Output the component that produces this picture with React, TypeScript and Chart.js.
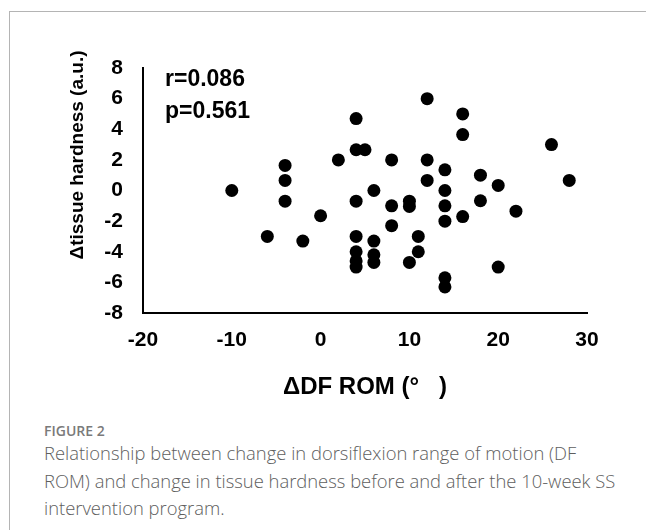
import React, { useEffect, useRef } from "react";
import { Chart, registerables } from "chart.js";

Chart.register(...registerables);

// ΔDF ROM (°) values
const dfRom: number[] = [
  -10, -6, -4, -4, -4, -2, 0, 2, 4, 4, 5, 4, 4, 4, 4, 4,
  6, 6, 6, 6,
  8, 8, 8, 10, 10, 10, 11, 11, 12, 12, 12,
  14, 14, 14, 14, 14, 14, 16, 16, 16, 18, 18, 20, 20, 22, 26, 28,
];
// Δtissue hardness (a.u.) values
const hardness: number[] = [
  0, -3, 1.64, 0.66, -0.7, -3.3, -1.65, 2, 4.7, 2.66, 2.66, -0.7, -3, -4, -4.6, -5,
  0, -3.3, -4.2, -4.7,
  2, -1, -2.3, -0.7, -1.04, -4.7, -3, -4, 6, 2, 0.66,
  1.35, 0, -1, -2, -5.7, -6.3, 5, 3.65, -1.7, 1, -0.67, 0.33, -5, -1.35, 3, 0.66,
];

const xTicks: number[] = [-20, -10, 0, 10, 20, 30];
const yTicks: number[] = [-8, -6, -4, -2, 0, 2, 4, 6, 8];

const xTitle = "ΔDF ROM (°   )";
const yTitle = "Δtissue hardness (a.u.)";
const statR = "r=0.086";
const statP = "p=0.561";
const figLabel = "FIGURE 2";
const caption =
  "Relationship between change in dorsiflexion range of motion (DF ROM) and change in tissue hardness before and after the 10-week SS intervention program.";

const AXIS_FONT = "'Liberation Sans', Arial, sans-serif";

export default function App() {
  const canvasRef = useRef<HTMLCanvasElement | null>(null);

  useEffect(() => {
    const canvas = canvasRef.current;
    if (!canvas) return;
    const points = dfRom.map((x, i) => ({ x, y: hardness[i] }));
    const chart = new Chart(canvas, {
      type: "scatter",
      data: {
        datasets: [
          {
            label: "subjects",
            data: points,
            backgroundColor: "#000",
            borderColor: "#000",
            borderWidth: 0,
            pointRadius: 6.5,
            pointHoverRadius: 6.5,
          },
        ],
      },
      options: {
        animation: false,
        responsive: false,
        maintainAspectRatio: false,
        events: [],
        layout: { padding: { left: 0, top: 68, right: 59, bottom: 0 } },
        plugins: {
          legend: { display: false },
          tooltip: { enabled: false },
          title: { display: false },
        },
        scales: {
          x: {
            type: "linear",
            min: xTicks[0],
            max: xTicks[xTicks.length - 1],
            afterFit: (s: any) => {
              s.height = 107;
            },
            afterBuildTicks: (s: any) => {
              s.ticks = xTicks.map((v) => ({ value: v }));
            },
            grid: { display: false, drawTicks: false },
            border: { display: true, color: "#000", width: 2 },
            ticks: {
              color: "#000",
              padding: 15,
              font: { family: AXIS_FONT, size: 21, weight: "bold" },
              maxRotation: 0,
            },
            title: {
              display: true,
              text: xTitle,
              color: "#000",
              font: { family: AXIS_FONT, size: 24, weight: "bold" },
              padding: { top: 0, bottom: 18 },
            },
          },
          y: {
            type: "linear",
            min: yTicks[0],
            max: yTicks[yTicks.length - 1],
            afterFit: (s: any) => {
              s.width = 143;
            },
            afterBuildTicks: (s: any) => {
              s.ticks = yTicks.map((v) => ({ value: v }));
            },
            grid: { display: false, drawTicks: false },
            border: { display: true, color: "#000", width: 2 },
            ticks: {
              color: "#000",
              padding: 20,
              font: { family: AXIS_FONT, size: 21, weight: "bold" },
            },
          },
        },
      },
    });
    return () => chart.destroy();
  }, []);

  return (
    <div
      style={{
        position: "fixed",
        left: 0,
        top: 0,
        width: 646,
        height: 530,
        overflow: "hidden",
        background: "#fff",
      }}
    >
      <div
        style={{
          position: "absolute",
          left: 9,
          top: 11,
          width: 700,
          height: 600,
          borderTop: "1px solid #b4b4b4",
          borderLeft: "1px solid #b4b4b4",
        }}
      />
      <canvas
        ref={canvasRef}
        width={646}
        height={420}
        style={{ position: "absolute", left: 0, top: 0, width: 646, height: 420 }}
      />
      <div
        style={{
          position: "absolute",
          left: 77 - 150,
          top: 155 - 15,
          width: 300,
          height: 30,
          lineHeight: "30px",
          textAlign: "center",
          transform: "rotate(-90deg)",
          fontFamily: AXIS_FONT,
          fontWeight: "bold",
          fontSize: 19,
          color: "#000",
          whiteSpace: "nowrap",
        }}
      >
        {yTitle}
      </div>
      <div
        style={{
          position: "absolute",
          left: 165,
          top: 78 - 15,
          height: 30,
          lineHeight: "30px",
          fontFamily: AXIS_FONT,
          fontWeight: "bold",
          fontSize: 23,
          color: "#000",
          whiteSpace: "nowrap",
        }}
      >
        {statR}
      </div>
      <div
        style={{
          position: "absolute",
          left: 165,
          top: 110 - 15,
          height: 30,
          lineHeight: "30px",
          fontFamily: AXIS_FONT,
          fontWeight: "bold",
          fontSize: 23,
          color: "#000",
          whiteSpace: "nowrap",
        }}
      >
        {statP}
      </div>
      <div
        style={{
          position: "absolute",
          left: 44,
          top: 421,
          lineHeight: "20px",
          fontFamily: "'Open Sans', sans-serif",
          fontWeight: 600,
          fontSize: 14,
          color: "#7a7a7a",
        }}
      >
        {figLabel}
      </div>
      <div
        style={{
          position: "absolute",
          left: 44,
          top: 439,
          width: 576,
          lineHeight: "27.5px",
          fontFamily: "'Open Sans', sans-serif",
          fontWeight: 300,
          fontSize: 18.4,
          color: "#5e5e5e",
        }}
      >
        {caption}
      </div>
    </div>
  );
}
